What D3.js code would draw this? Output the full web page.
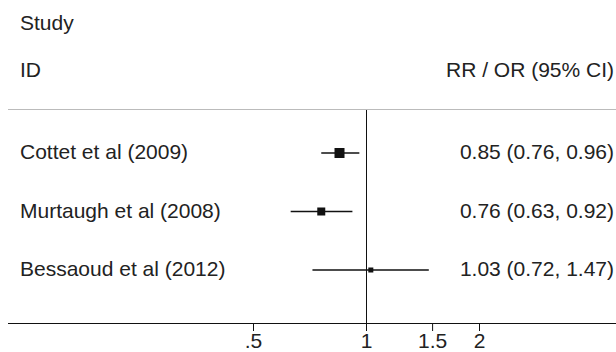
<!DOCTYPE html>
<html>
<head>
<meta charset="utf-8">
<script src="https://cdn.jsdelivr.net/npm/d3@7"></script>
<style>
  body { margin: 0; background: #fff; }
  text { font-family: "Liberation Sans", Arial, sans-serif; fill: #222; }
</style>
</head>
<body>
<div id="forest"></div>
<script>
// studies and their estimates
var studies = ["Cottet et al (2009)", "Murtaugh et al (2008)", "Bessaoud et al (2012)"];
var estimates = [0.85, 0.76, 1.03];
var lower = [0.76, 0.63, 0.72];
var upper = [0.96, 0.92, 1.47];
var weights = [10, 8, 5];
var ticks = [0.5, 1, 1.5, 2];
var tickLabels = [".5", "1", "1.5", "2"];

forestPlot();

function forestPlot() {
    var width = 616, height = 352;
    var fontSize = "21px";
    var axisY = 323;

    var svg = d3.select("#forest").append("svg")
        .attr("width", width)
        .attr("height", height);

    // log scale, 1 sits at x=366
    var x = d3.scaleLog()
        .domain([0.5, 2])
        .range([253, 479]);

    var y = d3.scalePoint()
        .domain(studies)
        .range([153, 270]);

    // headers
    svg.append("text").attr("x", 20).attr("y", 30).style("font-size", fontSize).text("Study");
    svg.append("text").attr("x", 20).attr("y", 77).style("font-size", fontSize).text("ID");
    svg.append("text").attr("x", 614).attr("y", 77).attr("text-anchor", "end")
        .style("font-size", fontSize).text("RR / OR (95% CI)");

    // separator
    svg.append("line")
        .attr("x1", 8).attr("x2", width).attr("y1", 109.5).attr("y2", 109.5)
        .style("stroke", "#bbb").style("stroke-width", 1);

    // null line
    svg.append("line")
        .attr("x1", Math.round(x(1)) + 0.5).attr("x2", Math.round(x(1)) + 0.5)
        .attr("y1", 110).attr("y2", axisY)
        .style("stroke", "#111").style("stroke-width", 1);

    var rows = svg.selectAll(".row")
        .data(studies)
        .enter().append("g")
        .attr("class", "row");

    rows.append("text")
        .attr("x", 20)
        .attr("y", function (d) { return y(d) + 6; })
        .style("font-size", fontSize)
        .text(function (d) { return d; });

    rows.append("line")
        .attr("x1", function (d, i) { return x(lower[i]); })
        .attr("x2", function (d, i) { return x(upper[i]); })
        .attr("y1", function (d) { return y(d); })
        .attr("y2", function (d) { return y(d); })
        .style("stroke", "#111").style("stroke-width", 1.5);

    rows.append("rect")
        .attr("x", function (d, i) { return x(estimates[i]) - weights[i] / 2; })
        .attr("y", function (d, i) { return y(d) - weights[i] / 2; })
        .attr("width", function (d, i) { return weights[i]; })
        .attr("height", function (d, i) { return weights[i]; })
        .style("fill", "#111");

    rows.append("text")
        .attr("x", 614)
        .attr("y", function (d) { return y(d) + 6; })
        .attr("text-anchor", "end")
        .style("font-size", fontSize)
        .text(function (d, i) {
            return estimates[i].toFixed(2) + " (" + lower[i].toFixed(2) + ", " + upper[i].toFixed(2) + ")";
        });

    // x axis
    var axis = d3.axisBottom(x)
        .tickValues(ticks)
        .tickFormat(function (d, i) { return tickLabels[i]; })
        .tickSize(8)
        .tickSizeOuter(0);

    var g = svg.append("g")
        .attr("transform", "translate(0," + axisY + ")")
        .call(axis);

    g.select(".domain").remove();
    g.append("line")
        .attr("x1", 8).attr("x2", width).attr("y1", 0.5).attr("y2", 0.5)
        .style("stroke", "#111");
    g.selectAll(".tick line").style("stroke", "#111");
    g.selectAll(".tick text")
        .attr("y", 10)
        .style("font-size", fontSize)
        .style("font-family", "Liberation Sans, Arial, sans-serif")
        .style("fill", "#222");
}
</script>
</body>
</html>
